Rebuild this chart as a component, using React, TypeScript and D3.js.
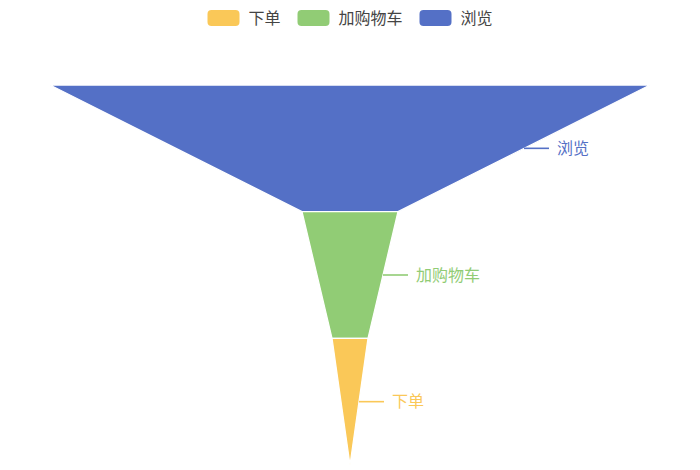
import React from "react";
import * as d3 from "d3";

// data (legend order = data order)
const names = ["下单", "加购物车", "浏览"];
const values = [6, 16, 100];
const colors = ["#fac858", "#91cc75", "#5470c6"];

const W = 700;
const H = 470;
const FONT = "'Noto Sans CJK SC', 'Noto Sans', sans-serif";

const App: React.FC = () => {
  // funnel sorted descending, top -> bottom
  const items = names
    .map((n, i) => ({ name: n, value: values[i], color: colors[i] }))
    .sort((a, b) => b.value - a.value);

  const widthScale = d3.scaleLinear().domain([0, 100]).range([0, 600]).clamp(true);
  const yScale = d3.scaleBand<string>().domain(items.map((d) => d.name)).range([85, 465]).padding(0);
  const cx = 350;
  const h = yScale.bandwidth();

  const line = d3.line<[number, number]>();

  const pieces = items.map((d, i) => {
    const y0 = yScale(d.name)!;
    const y1 = y0 + h;
    const wTop = widthScale(d.value);
    const wBot = i < items.length - 1 ? widthScale(items[i + 1].value) : 0;
    const pts: [number, number][] = [
      [cx - wTop / 2, y0],
      [cx + wTop / 2, y0],
      [cx + wBot / 2, y1],
      [cx - wBot / 2, y1],
    ];
    // label anchor at middle of right edge
    const lx = (pts[1][0] + pts[2][0]) / 2;
    const ly = (pts[1][1] + pts[2][1]) / 2;
    return { ...d, path: line(pts)! + "Z", lx, ly };
  });

  // legend
  const iconW = 32;
  const iconH = 16;
  const fs = 16;
  const legendItems: { name: string; color: string; x: number }[] = [];
  let total = 0;
  names.forEach((n, i) => {
    if (i > 0) total += 17;
    legendItems.push({ name: n, color: colors[i], x: total });
    total += iconW + 9 + n.length * fs;
  });
  const legendX = cx - total / 2;

  return (
    <svg
      width={W}
      height={H}
      style={{ position: "absolute", left: 0, top: 0, fontFamily: FONT }}
    >
      <rect width={W} height={H} fill="#fff" />
      <g transform={`translate(${legendX},0)`}>
        {legendItems.map((d) => (
          <g key={d.name} transform={`translate(${d.x},0)`}>
            <rect x={0} y={10} width={iconW} height={iconH} rx={4} fill={d.color} />
            <text x={iconW + 9} y={18} dy="0.35em" fontSize={fs} fill="#444">
              {d.name}
            </text>
          </g>
        ))}
      </g>
      {pieces.map((d) => (
        <g key={d.name}>
          <path d={d.path} fill={d.color} stroke="#fff" strokeWidth={1.3} />
          <line x1={d.lx} y1={d.ly} x2={d.lx + 25} y2={d.ly} stroke={d.color} strokeWidth={1.6} />
          <text x={d.lx + 33} y={d.ly} dy="0.35em" fontSize={fs} fill={d.color}>
            {d.name}
          </text>
        </g>
      ))}
    </svg>
  );
};

export default App;
